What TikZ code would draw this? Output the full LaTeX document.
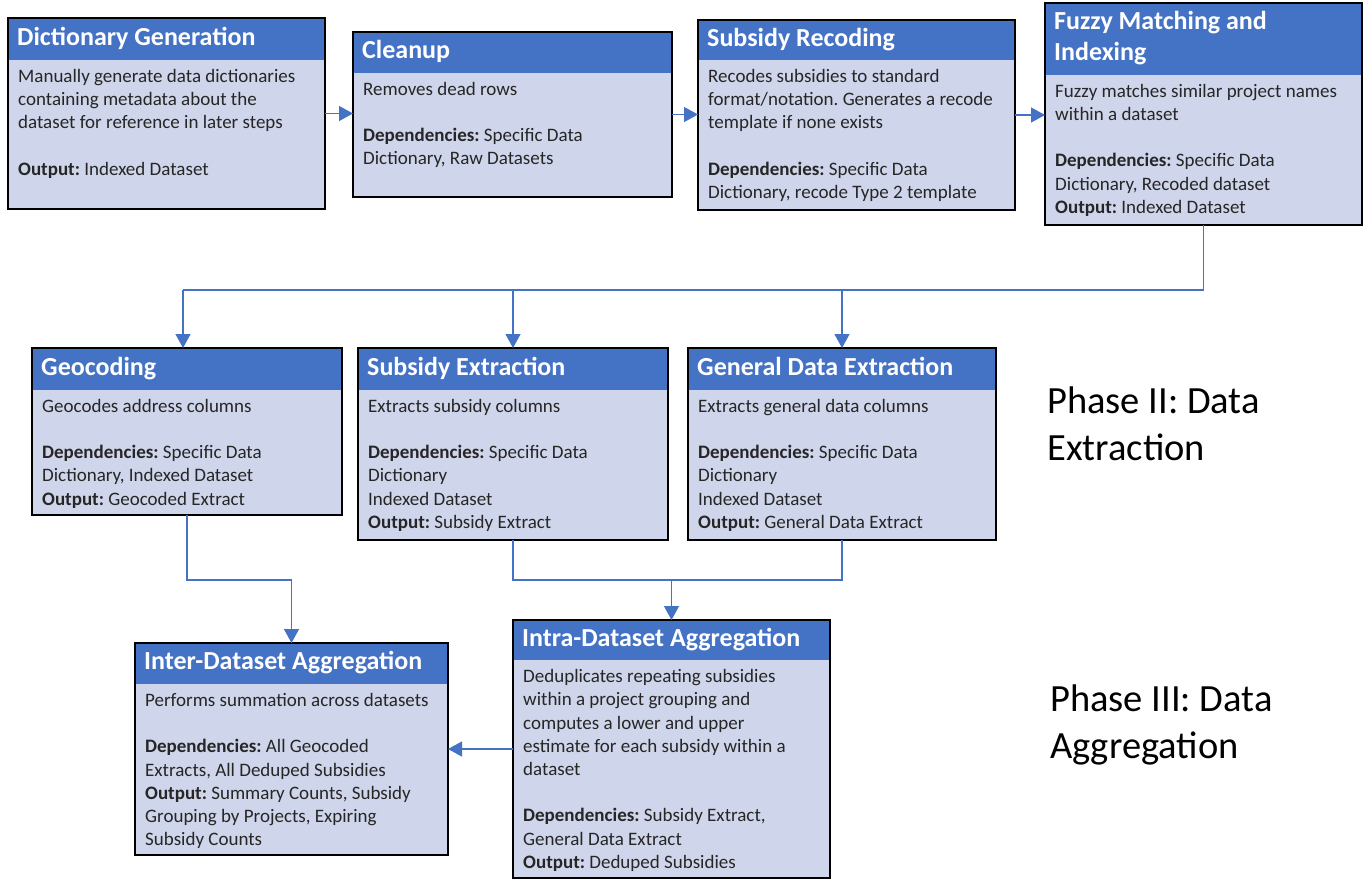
\documentclass[tikz,border=0pt]{standalone}
\usepackage{fontspec}
\setmainfont{Carlito}
\usetikzlibrary{arrows.meta, calc}
\frenchspacing

\definecolor{headblue}{HTML}{4472C4}
\definecolor{bodylav}{HTML}{CFD5EA}
\definecolor{textgray}{HTML}{262626}

% name, left, top, width, height, header height, title, text
\newcommand{\stage}[8]{%
  \node[stagebox, minimum width=#4pt, minimum height=#5pt, anchor=north west] (#1) at (#2,#3) {};
  \fill[headblue] (#1.north west) rectangle ([yshift=-#6pt]#1.north east);
  \draw[stageframe] (#1.north west) rectangle (#1.south east);
  \node[stagetitle, anchor=west] at ([xshift=9pt, yshift=-#6pt/2]#1.north west) {\strut #7\strut};
  \node[stagetext, anchor=north west] at ([xshift=10pt, yshift=-#6pt-9pt]#1.north west) {#8};
}

\begin{document}
\begin{tikzpicture}[x=1pt, y=-1pt,
	stagebox/.style={fill=bodylav, inner sep=0pt, outer sep=0pt},
	stageframe/.style={line width=2.5pt, black},
	stagetitle/.style={text=white, font=\fontsize{26}{31}\selectfont\bfseries, align=left, inner sep=0pt},
	stagetext/.style={text=textgray, font=\fontsize{19}{23.3}\selectfont, align=left, inner sep=0pt},
	link/.style={draw=headblue, line width=1.3pt},
	flow/.style={link, -{Triangle[length=14pt, width=15pt]}},
	phase/.style={font=\fontsize{38.5}{47}\selectfont, align=left, anchor=north west, inner sep=0pt}]

	\useasboundingbox (0,0) rectangle (1364,880);

	% phase I
	\stage{dict}{8}{18}{317}{191}{42}{Dictionary Generation}
		{Manually generate data dictionaries\\ containing metadata about the\\ dataset for reference in later steps\\[23pt] \textbf{Output:} Indexed Dataset}
	\stage{clean}{353}{32}{319}{165}{41}{Cleanup}
		{Removes dead rows\\[23pt] \textbf{Dependencies:} Specific Data\\ Dictionary, Raw Datasets}
	\stage{recode}{698}{20}{317}{190}{40}{Subsidy Recoding}
		{Recodes subsidies to standard\\ format/notation. Generates a recode\\ template if none exists\\[23pt] \textbf{Dependencies:} Specific Data\\ Dictionary, recode Type 2 template}
	\stage{fuzzy}{1045}{3}{317}{222}{72}{Fuzzy Matching and\\ Indexing}
		{Fuzzy matches similar project names\\ within a dataset\\[23pt] \textbf{Dependencies:} Specific Data\\ Dictionary, Recoded dataset\\ \textbf{Output:} Indexed Dataset}

	% phase II
	\stage{geo}{32}{348}{310}{167}{42}{Geocoding}
		{Geocodes address columns\\[23pt] \textbf{Dependencies:} Specific Data\\ Dictionary, Indexed Dataset\\ \textbf{Output:} Geocoded Extract}
	\stage{subx}{358}{348}{310}{192}{42}{Subsidy Extraction}
		{Extracts subsidy columns\\[23pt] \textbf{Dependencies:} Specific Data\\ Dictionary\\ Indexed Dataset\\ \textbf{Output:} Subsidy Extract}
	\stage{genx}{688}{348}{308}{192}{42}{General Data Extraction}
		{Extracts general data columns\\[23pt] \textbf{Dependencies:} Specific Data\\ Dictionary\\ Indexed Dataset\\ \textbf{Output:} General Data Extract}

	% phase III
	\stage{inter}{135}{643}{313}{212}{41}{Inter-Dataset Aggregation}
		{Performs summation across datasets\\[23pt] \textbf{Dependencies:} All Geocoded\\ Extracts, All Deduped Subsidies\\ \textbf{Output:} Summary Counts, Subsidy\\ Grouping by Projects, Expiring\\ Subsidy Counts}
	\stage{intra}{513}{620}{317}{258}{40}{Intra-Dataset Aggregation}
		{Deduplicates repeating subsidies\\ within a project grouping and\\ computes a lower and upper\\ estimate for each subsidy within a\\ dataset\\[23pt] \textbf{Dependencies:} Subsidy Extract,\\ General Data Extract\\ \textbf{Output:} Deduped Subsidies}

	\node[phase] (ph2) at (1047,387) {Phase II: Data\\ Extraction};
	\node[phase] (ph3) at (1050,685) {Phase III: Data\\ Aggregation};

	\coordinate (bus) at (0,290);
	\coordinate (merge) at (0,580);

	\draw[flow] (dict.east) -- (dict.east -| clean.west);
	\draw[flow] (clean.east) -- (clean.east -| recode.west);
	\draw[flow] (recode.east) -- (recode.east -| fuzzy.west);

	\draw[link] (fuzzy.south) |- ([xshift=-4pt]geo.north |- bus);
	\draw[flow] ([xshift=-4pt]geo.north |- bus) -- ([xshift=-4pt]geo.north);
	\draw[flow] (subx.north |- bus) -- (subx.north);
	\draw[flow] (genx.north |- bus) -- (genx.north);

	\draw[flow] (geo.south) |- (merge -| inter.north) -- (inter.north);
	\draw[link] (subx.south) |- (merge -| genx.south) -- (genx.south);
	\draw[flow] (merge -| intra.north) -- (intra.north);
	\draw[flow] (intra.west) -- (inter.east);

\end{tikzpicture}
\end{document}
